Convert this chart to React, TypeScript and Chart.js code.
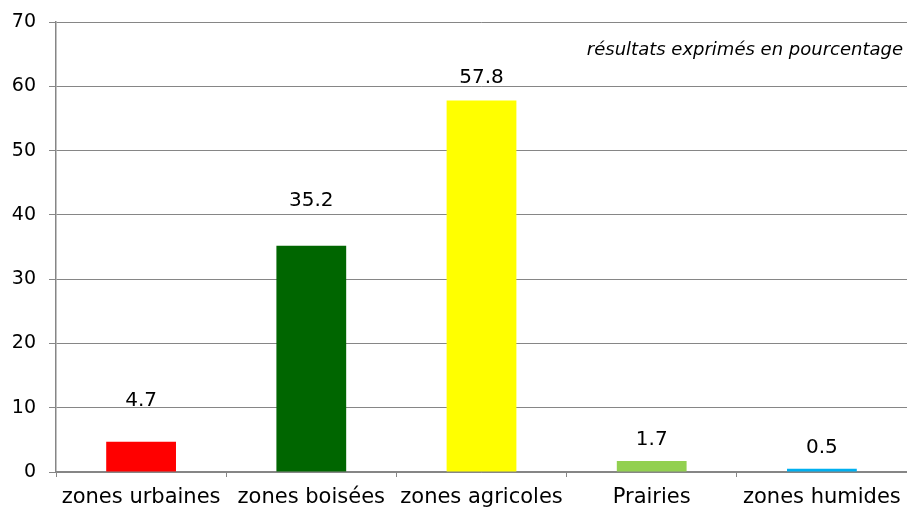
import React, { useEffect, useRef } from "react";
import { Chart, registerables } from "chart.js";

Chart.register(...registerables);

const categories = ["zones urbaines", "zones boisées", "zones agricoles", "Prairies", "zones humides"];
const values = [4.7, 35.2, 57.8, 1.7, 0.5];
const valueLabels = ["4.7", "35.2", "57.8", "1.7", "0.5"];
const barColors = ["#ff0000", "#006600", "#ffff00", "#92d050", "#00b0f0"];
const yTicks = [0, 10, 20, 30, 40, 50, 60, 70];
const note = "résultats exprimés en pourcentage";

// styling: pixel lift of each value label's centre above its bar top
const labelLift = [41, 45, 23, 21, 21];

const FONT = "'DejaVu Sans', Verdana, sans-serif";
const GRID = "#868686";

const valuePlugin = {
  id: "valueLabels",
  afterDatasetsDraw(chart: any) {
    const ctx = chart.ctx;
    const meta = chart.getDatasetMeta(0);
    ctx.save();
    ctx.font = `20px ${FONT}`;
    ctx.fillStyle = "#000";
    ctx.textAlign = "center";
    ctx.textBaseline = "middle";
    meta.data.forEach((bar: any, i: number) => {
      ctx.fillText(valueLabels[i], bar.x, bar.y - labelLift[i]);
    });
    ctx.font = `italic 18px ${FONT}`;
    ctx.textAlign = "right";
    ctx.textBaseline = "middle";
    ctx.fillText(note, chart.chartArea.right - 4, 50);
    ctx.restore();
  },
};

export default function App() {
  const ref = useRef<HTMLCanvasElement>(null);
  useEffect(() => {
    if (!ref.current) return;
    const chart = new Chart(ref.current, {
      type: "bar",
      data: {
        labels: categories,
        datasets: [
          {
            data: values,
            backgroundColor: barColors,
            borderWidth: 0,
            categoryPercentage: 1,
            barPercentage: 0.41,
          },
        ],
      },
      options: {
        animation: false,
        responsive: false,
        maintainAspectRatio: false,
        layout: { padding: { top: 22, right: 0, left: 0, bottom: 0 } },
        plugins: { legend: { display: false }, tooltip: { enabled: false } },
        scales: {
          y: {
            min: 0,
            max: 70,
            afterBuildTicks: (scale: any) => {
              scale.ticks = yTicks.map((v) => ({ value: v }));
            },
            afterFit: (scale: any) => {
              scale.width = 56;
              scale.paddingTop = 0;
              scale.paddingBottom = 0;
            },
            ticks: {
              font: { family: FONT, size: 19 },
              color: "#000",
              padding: 13,
            },
            grid: { color: GRID, lineWidth: 1, tickLength: 7, drawTicks: true },
            border: { color: GRID, width: 1.5 },
          },
          x: {
            afterFit: (scale: any) => {
              scale.height = 38;
              scale.paddingLeft = 0;
              scale.paddingRight = 0;
            },
            ticks: {
              font: { family: FONT, size: 21 },
              color: "#000",
              padding: 8,
              maxRotation: 0,
              autoSkip: false,
            },
            grid: {
              offset: true,
              drawOnChartArea: false,
              drawTicks: true,
              tickLength: 5,
              color: GRID,
            },
            border: { color: GRID, width: 1.5 },
          },
        },
      },
      plugins: [valuePlugin],
    });
    return () => chart.destroy();
  }, []);
  return (
    <div style={{ position: "fixed", left: 0, top: 0, width: 907, height: 510, background: "#fff" }}>
      <canvas ref={ref} width={907} height={510} style={{ width: 907, height: 510 }} />
    </div>
  );
}
